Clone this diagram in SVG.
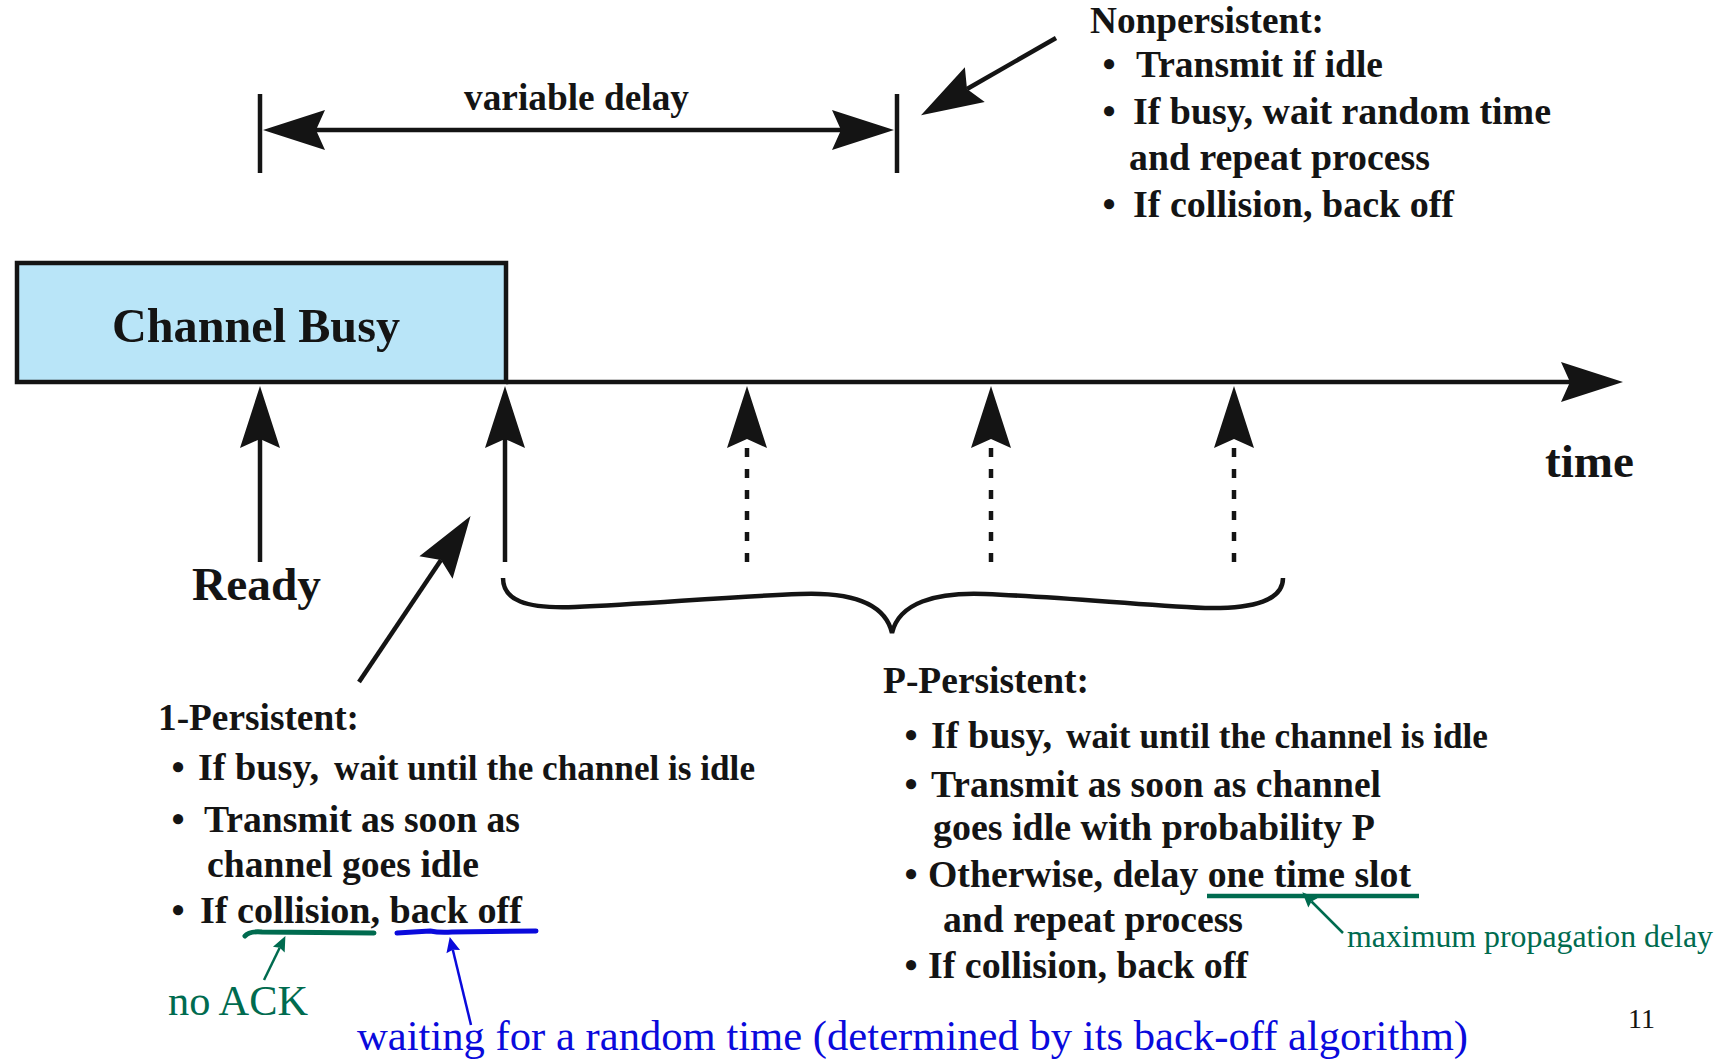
<svg xmlns="http://www.w3.org/2000/svg" width="1731" height="1061" viewBox="0 0 1731 1061">
  <defs>
    <style>
      .t { font-family: "Liberation Serif", "Times New Roman", serif; font-weight: bold; fill: #141414; font-size: 37.5px; }
      .s { font-size: 35px; }
      .g { font-family: "Liberation Serif", "Times New Roman", serif; fill: #006b4f; }
      .b { font-family: "Liberation Serif", "Times New Roman", serif; fill: #0a0adc; }
      .ln { stroke: #141414; stroke-width: 4.5; fill: none; }
      .dash { stroke-dasharray: 9 12; }
    </style>
    <marker id="stealth" markerUnits="userSpaceOnUse" viewBox="-11 -22 66 44" markerWidth="66" markerHeight="44" refX="0" refY="0" orient="auto-start-reverse">
      <path d="M53,0 L-9,-20 L0,0 L-9,20 Z" fill="#141414"/>
    </marker>
    <marker id="gHead" markerUnits="userSpaceOnUse" viewBox="-4 -8 20 16" markerWidth="20" markerHeight="16" refX="0" refY="0" orient="auto">
      <path d="M13,0 L-2,-6.5 L0,0 L-2,6.5 Z" fill="#006b4f"/>
    </marker>
    <marker id="bHead" markerUnits="userSpaceOnUse" viewBox="-4 -8 20 16" markerWidth="20" markerHeight="16" refX="0" refY="0" orient="auto">
      <path d="M13,0 L-2,-7 L0,0 L-2,7 Z" fill="#0a0adc"/>
    </marker>
  </defs>

  <!-- Channel Busy node -->
  <g id="channel-busy">
    <rect x="17" y="263" width="489" height="119" fill="#b9e5f8" stroke="#141414" stroke-width="4.5"/>
    <text class="t" x="112" y="342" font-size="49" textLength="288" lengthAdjust="spacingAndGlyphs" style="font-size:49px">Channel Busy</text>
  </g>

  <!-- connectors -->
  <g id="connectors">
    <!-- variable delay dimension -->
    <line class="ln" x1="260" y1="94" x2="260" y2="173"/>
    <line class="ln" x1="897" y1="94" x2="897" y2="173"/>
    <line class="ln" x1="316" y1="130" x2="841" y2="130" marker-start="url(#stealth)" marker-end="url(#stealth)"/>
    <!-- time axis -->
    <line class="ln" x1="506" y1="382" x2="1570" y2="382" marker-end="url(#stealth)"/>
    <!-- up arrows -->
    <line class="ln" x1="260" y1="562" x2="260" y2="439" marker-end="url(#stealth)"/>
    <line class="ln" x1="505" y1="562" x2="505" y2="439" marker-end="url(#stealth)"/>
    <line class="ln dash" x1="747" y1="562" x2="747" y2="439" marker-end="url(#stealth)"/>
    <line class="ln dash" x1="991" y1="562" x2="991" y2="439" marker-end="url(#stealth)"/>
    <line class="ln dash" x1="1234" y1="562" x2="1234" y2="439" marker-end="url(#stealth)"/>
    <!-- nonpersistent pointer -->
    <line class="ln" x1="1056" y1="38" x2="967" y2="89" marker-end="url(#stealth)"/>
    <!-- 1-persistent pointer -->
    <line class="ln" x1="359" y1="682" x2="441" y2="560" marker-end="url(#stealth)"/>
    <!-- brace -->
    <path class="ln" d="M503,578 C503,600 525,609 575,607 C650,604 720,597 800,594 C850,592 885,603 892,633 C899,603 935,592 985,594 C1060,597 1130,604 1205,608 C1255,609 1283,600 1283,578"/>
    <!-- annotations -->
    <path d="M245,936 Q249,931 262,932 L374,933" stroke="#006b4f" stroke-width="5" fill="none" stroke-linecap="round"/>
    <path d="M397,933 L430,931 Q440,933 452,932 L536,931" stroke="#0a0adc" stroke-width="5" fill="none" stroke-linecap="round"/>
    <line x1="1207" y1="896" x2="1419" y2="896" stroke="#006b4f" stroke-width="4.5"/>
    <line x1="264" y1="980" x2="279.7" y2="947.8" stroke="#006b4f" stroke-width="2.5" marker-end="url(#gHead)"/>
    <line x1="471" y1="1025" x2="452.8" y2="949.7" stroke="#0a0adc" stroke-width="2.5" marker-end="url(#bHead)"/>
    <line x1="1343" y1="933" x2="1311.5" y2="901.5" stroke="#006b4f" stroke-width="2.5" marker-end="url(#gHead)"/>
  </g>

  <!-- labels -->
  <g id="variable-delay">
    <text class="t" x="464" y="110" textLength="225" lengthAdjust="spacingAndGlyphs">variable delay</text>
  </g>
  <g id="ready">
    <text class="t" x="192" y="600" style="font-size:47px" textLength="129" lengthAdjust="spacingAndGlyphs">Ready</text>
  </g>
  <g id="time">
    <text class="t" x="1545" y="477" style="font-size:47px" textLength="89" lengthAdjust="spacingAndGlyphs">time</text>
  </g>

  <g id="nonpersistent">
    <text class="t" x="1090" y="33" textLength="234" lengthAdjust="spacingAndGlyphs">Nonpersistent:</text>
    <text class="t" x="1109" y="77" text-anchor="middle">•</text>
    <text class="t" x="1136" y="77" textLength="247" lengthAdjust="spacingAndGlyphs">Transmit if idle</text>
    <text class="t" x="1109" y="124" text-anchor="middle">•</text>
    <text class="t" x="1133" y="124" textLength="418" lengthAdjust="spacingAndGlyphs">If busy, wait random time</text>
    <text class="t" x="1129" y="170" textLength="301" lengthAdjust="spacingAndGlyphs">and repeat process</text>
    <text class="t" x="1109" y="217" text-anchor="middle">•</text>
    <text class="t" x="1133" y="217" textLength="321" lengthAdjust="spacingAndGlyphs">If collision, back off</text>
  </g>

  <g id="one-persistent">
    <text class="t" x="158" y="730" textLength="201" lengthAdjust="spacingAndGlyphs">1-Persistent:</text>
    <text class="t" x="178" y="780" text-anchor="middle">•</text>
    <text class="t" x="198" y="780" textLength="121" lengthAdjust="spacingAndGlyphs">If busy,</text>
    <text class="t s" x="334" y="780" textLength="421" lengthAdjust="spacingAndGlyphs">wait until the channel is idle</text>
    <text class="t" x="178" y="832" text-anchor="middle">•</text>
    <text class="t" x="204" y="832" textLength="316" lengthAdjust="spacingAndGlyphs">Transmit as soon as</text>
    <text class="t" x="207" y="877" textLength="272" lengthAdjust="spacingAndGlyphs">channel goes idle</text>
    <text class="t" x="178" y="923" text-anchor="middle">•</text>
    <text class="t" x="200" y="923" textLength="322" lengthAdjust="spacingAndGlyphs">If collision, back off</text>
  </g>

  <g id="p-persistent">
    <text class="t" x="883" y="693" textLength="206" lengthAdjust="spacingAndGlyphs">P-Persistent:</text>
    <text class="t" x="911" y="748" text-anchor="middle">•</text>
    <text class="t" x="931" y="748" textLength="121" lengthAdjust="spacingAndGlyphs">If busy,</text>
    <text class="t s" x="1066" y="748" textLength="422" lengthAdjust="spacingAndGlyphs">wait until the channel is idle</text>
    <text class="t" x="911" y="797" text-anchor="middle">•</text>
    <text class="t" x="931" y="797" textLength="450" lengthAdjust="spacingAndGlyphs">Transmit as soon as channel</text>
    <text class="t" x="933" y="840" textLength="442" lengthAdjust="spacingAndGlyphs">goes idle with probability P</text>
    <text class="t" x="911" y="887" text-anchor="middle">•</text>
    <text class="t" x="928" y="887" textLength="483" lengthAdjust="spacingAndGlyphs">Otherwise, delay one time slot</text>
    <text class="t" x="943" y="932" textLength="300" lengthAdjust="spacingAndGlyphs">and repeat process</text>
    <text class="t" x="911" y="978" text-anchor="middle">•</text>
    <text class="t" x="928" y="978" textLength="320" lengthAdjust="spacingAndGlyphs">If collision, back off</text>
  </g>

  <g id="no-ack">
    <text class="g" x="168" y="1015" font-size="42" textLength="140" lengthAdjust="spacingAndGlyphs">no ACK</text>
  </g>
  <g id="max-prop-delay">
    <text class="g" x="1347" y="947" font-size="31" textLength="366" lengthAdjust="spacingAndGlyphs">maximum propagation delay</text>
  </g>
  <g id="waiting">
    <text class="b" x="357" y="1050" font-size="42.5" textLength="1111" lengthAdjust="spacingAndGlyphs">waiting for a random time (determined by its back-off algorithm)</text>
  </g>
  <g id="page-number">
    <text x="1628" y="1028" font-family="Liberation Serif, Times New Roman, serif" font-size="28" fill="#141414">11</text>
  </g>
</svg>
